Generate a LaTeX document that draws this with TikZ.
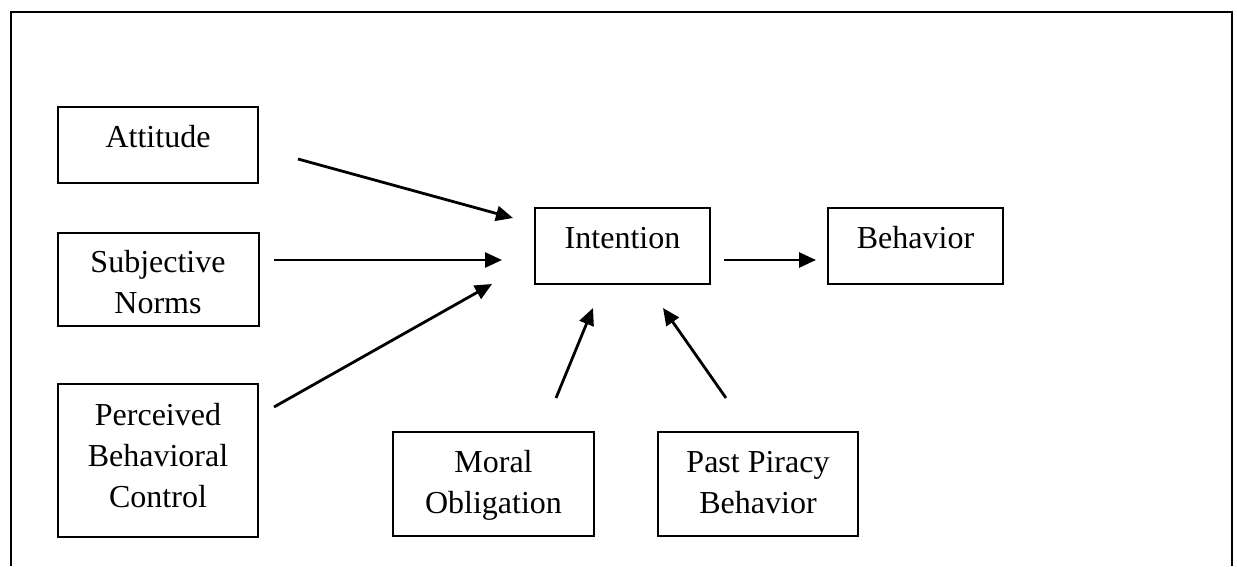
\documentclass[tikz,border=0pt]{standalone}
\usepackage{fontspec}
\setmainfont{Liberation Serif}
\usetikzlibrary{arrows.meta}
\begin{document}
\begin{tikzpicture}[x=1pt,y=-1pt,
  box/.style={draw, line width=2pt, inner sep=0pt},
  lbl/.style={anchor=base, inner sep=0pt, font=\fontsize{32}{41}\selectfont},
  conn/.style={line width=2.8pt, -{Triangle[length=17pt,width=15pt]}}]
\useasboundingbox (0,0) rectangle (1237,566);
\draw[line width=2.2pt] (11,566) -- (11,12) -- (1232,12) -- (1232,566);
% boxes
\node[box, minimum width=200pt, minimum height=76pt] (att) at (158,145) {};
\node[box, minimum width=201pt, minimum height=93pt] (sub) at (158,279) {};
\node[box, minimum width=200pt, minimum height=153pt] (pbc) at (158,460.5) {};
\node[box, minimum width=175pt, minimum height=76pt] (int) at (622.5,246) {};
\node[box, minimum width=175pt, minimum height=76pt] (beh) at (915.5,246) {};
\node[box, minimum width=201pt, minimum height=104pt] (mor) at (493.5,484) {};
\node[box, minimum width=200pt, minimum height=104pt] (past) at (758,484) {};
% texts
\node[lbl] (attT) at (158,147) {Attitude};
\node[lbl] (subT) at (158,272) {\begin{tabular}[t]{@{}c@{}}Subjective\\Norms\end{tabular}};
\node[lbl] (pbcT) at (158,425) {\begin{tabular}[t]{@{}c@{}}Perceived\\Behavioral\\Control\end{tabular}};
\node[lbl] (intT) at (622.5,248) {Intention};
\node[lbl] (behT) at (915.5,248) {Behavior};
\node[lbl] (morT) at (493.5,472) {\begin{tabular}[t]{@{}c@{}}Moral\\Obligation\end{tabular}};
\node[lbl] (pastT) at (758,472) {\begin{tabular}[t]{@{}c@{}}Past Piracy\\Behavior\end{tabular}};
% connector ends
\coordinate (a1s) at (298,159); \coordinate (a1e) at (513,218);
\coordinate (a2s) at (274,260); \coordinate (a2e) at (502,260);
\coordinate (a3s) at (274,407); \coordinate (a3e) at (492,284);
\coordinate (a4s) at (724,260); \coordinate (a4e) at (816,260);
\coordinate (a5s) at (556,398); \coordinate (a5e) at (593,308);
\coordinate (a6s) at (726,398); \coordinate (a6e) at (663,308);
\draw[conn] (a1s) -- (a1e);
\draw[conn] (a2s) -- (a2e);
\draw[conn] (a3s) -- (a3e);
\draw[conn] (a4s) -- (a4e);
\draw[conn] (a5s) -- (a5e);
\draw[conn] (a6s) -- (a6e);
\end{tikzpicture}
\end{document}
